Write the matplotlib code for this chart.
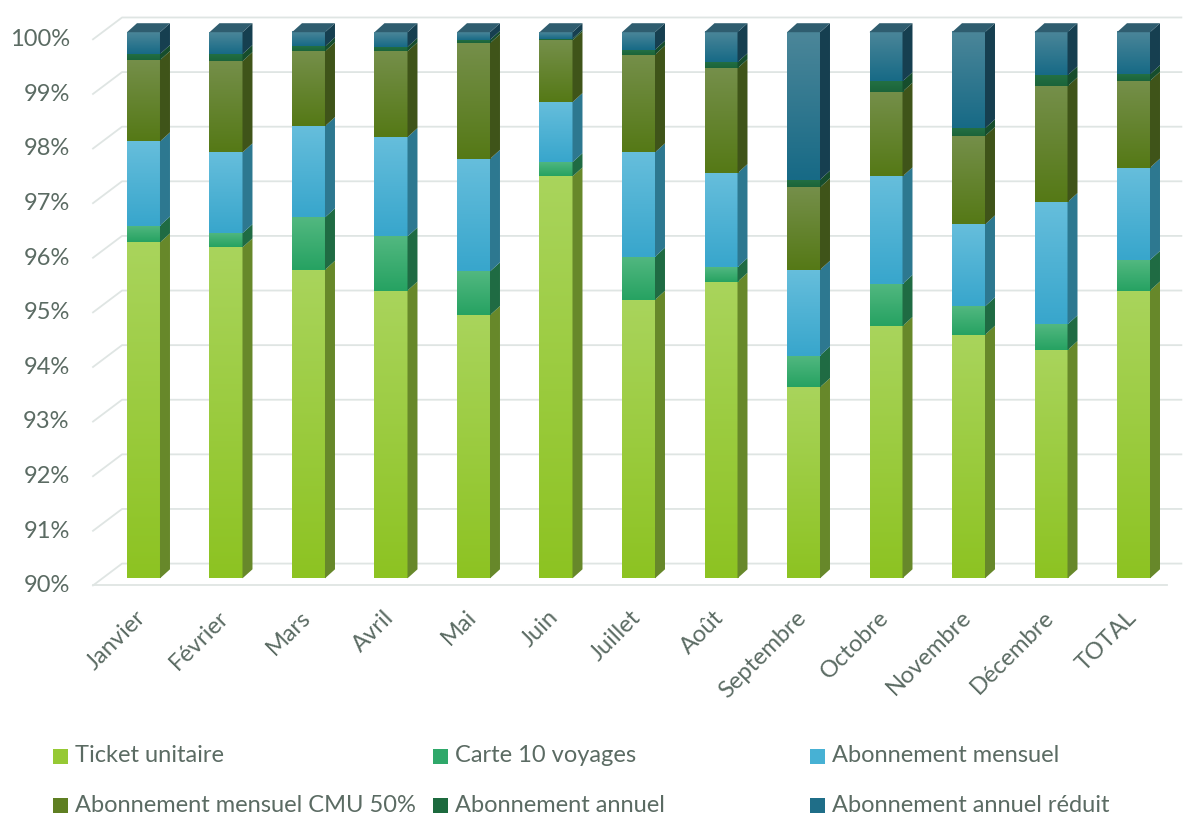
import numpy as np
import matplotlib
matplotlib.use("Agg")
import matplotlib.pyplot as plt
from matplotlib.patches import Polygon, Rectangle

plt.rcParams['font.family'] = ['Lato', 'DejaVu Sans']

# data (share of sales, %)
months = ["Janvier", "Février", "Mars", "Avril", "Mai", "Juin", "Juillet",
          "Août", "Septembre", "Octobre", "Novembre", "Décembre", "TOTAL"]
ticket = [96.15, 96.06, 95.65, 95.27, 94.82, 97.36, 95.10, 95.43, 93.50, 94.62, 94.46, 94.18, 95.27]
carte10 = [0.31, 0.26, 0.96, 0.99, 0.80, 0.26, 0.79, 0.27, 0.58, 0.77, 0.52, 0.47, 0.56]
mensuel = [1.54, 1.48, 1.67, 1.82, 2.06, 1.10, 1.91, 1.72, 1.57, 1.97, 1.50, 2.24, 1.69]
cmu = [1.49, 1.67, 1.37, 1.57, 2.12, 1.13, 1.79, 1.92, 1.51, 1.55, 1.62, 2.12, 1.59]
annuel = [0.11, 0.13, 0.09, 0.08, 0.06, 0.03, 0.09, 0.11, 0.14, 0.19, 0.14, 0.20, 0.12]
reduit = [0.40, 0.40, 0.26, 0.27, 0.14, 0.12, 0.32, 0.55, 2.70, 0.90, 1.76, 0.79, 0.77]

series = ["Ticket unitaire", "Carte 10 voyages", "Abonnement mensuel",
          "Abonnement mensuel CMU 50%", "Abonnement annuel", "Abonnement annuel réduit"]
values = [ticket, carte10, mensuel, cmu, annuel, reduit]

# (front top, front bottom, side)
colors = [("#a9d45c", "#8dc322", "#67882a"),
          ("#52b880", "#26a262", "#1f6b43"),
          ("#66bedc", "#38a6cc", "#2d7890"),
          ("#758f4a", "#557916", "#3f5419"),
          ("#237043", "#1b643a", "#164d2c"),
          ("#4b8699", "#176a86", "#163f50")]
legend_colors = ["#96c934", "#2fa86a", "#47b1d4", "#5f7f22", "#1d6a3e", "#1f6e88"]
top_color = "#2f5d6f"
text_color = "#5b6b63"
grid_color = "#dfe5e3"

W, H = 1184, 816
fig = plt.figure(figsize=(W / 100, H / 100), dpi=100)
ax = fig.add_axes([85 / W, (H - 600) / H, 1099 / W, 600 / H])

x = np.arange(len(months))
bw = 0.4
dx, dy = 0.121, 0.165
ymin = 90

clip = Rectangle((-2, ymin), 20, 20, transform=ax.transData)

# back wall grid + floor
xf, xb, xe = -0.612, -0.26, 12.58
for v in range(91, 101):
    ax.plot([xf, xb, xe], [v - 0.13, v + 0.27, v + 0.27], color=grid_color, lw=1.3, zorder=1)
ax.plot([xf, xb, xe], [ymin - 0.13, ymin + 0.27, ymin + 0.27], color=grid_color, lw=1.3, zorder=1)
ax.plot([xf, 12.406], [ymin - 0.13, ymin - 0.13], color=grid_color, lw=1.3, zorder=1)

bottom = np.zeros(len(months))
for vals, (c_top, c_bot, c_side) in zip(values, colors):
    vals = np.array(vals)
    bars = ax.bar(x, vals, bw, bottom=bottom, color=c_bot, zorder=2.9, linewidth=0)
    for b in bars:
        b.set_clip_path(clip)
    ct = np.array(matplotlib.colors.to_rgb(c_top))
    cb = np.array(matplotlib.colors.to_rgb(c_bot))
    grad = np.linspace(ct, cb, 64).reshape(64, 1, 3)
    for i in range(len(months)):
        y0 = max(bottom[i], ymin)
        y1 = bottom[i] + vals[i]
        if y1 <= y0:
            continue
        x0, x1 = x[i] - bw / 2, x[i] + bw / 2
        ax.imshow(grad, extent=(x0, x1, y0, y1), origin='upper', aspect='auto',
                  interpolation='bilinear', zorder=3)
        ax.add_patch(Polygon([(x1, y0), (x1 + dx, y0 + dy), (x1 + dx, y1 + dy), (x1, y1)],
                             closed=True, facecolor=c_side, edgecolor='none', zorder=3))
    bottom = bottom + vals

for i in range(len(months)):
    x0, x1 = x[i] - bw / 2, x[i] + bw / 2
    t = bottom[i]
    ax.add_patch(Polygon([(x0, t), (x0 + dx, t + dy), (x1 + dx, t + dy), (x1, t)],
                         closed=True, facecolor=top_color, edgecolor='none', zorder=3))

ax.set_xlim(-0.709, 12.612)
ax.set_ylim(89.603, 100.59)

ticks = list(range(90, 101))
ax.set_yticks([t - 0.1 for t in ticks], [f"{t}%" for t in ticks])
ax.set_xticks([])
ax.tick_params(axis='y', length=0, pad=11, labelsize=17, labelcolor=text_color)
for s in ax.spines.values():
    s.set_visible(False)

for i, m in enumerate(months):
    ax.text(x[i] - 0.1, 89.48, m, rotation=45, ha='right', va='top',
            rotation_mode='anchor', fontsize=17, color=text_color, clip_on=False)

# legend
leg_pos = [(53, 756), (433, 756), (810, 756), (53, 805), (433, 805), (810, 805)]
for (px, py), name, c in zip(leg_pos, series, legend_colors):
    fig.add_artist(Rectangle((px / W, (H - py - 7.5) / H), 15 / W, 15 / H,
                             transform=fig.transFigure, facecolor=c, edgecolor='none'))
    fig.text((px + 22) / W, (H - py) / H, name, ha='left', va='center',
             fontsize=17, color=text_color)

fig.savefig("out.png", dpi=100)
